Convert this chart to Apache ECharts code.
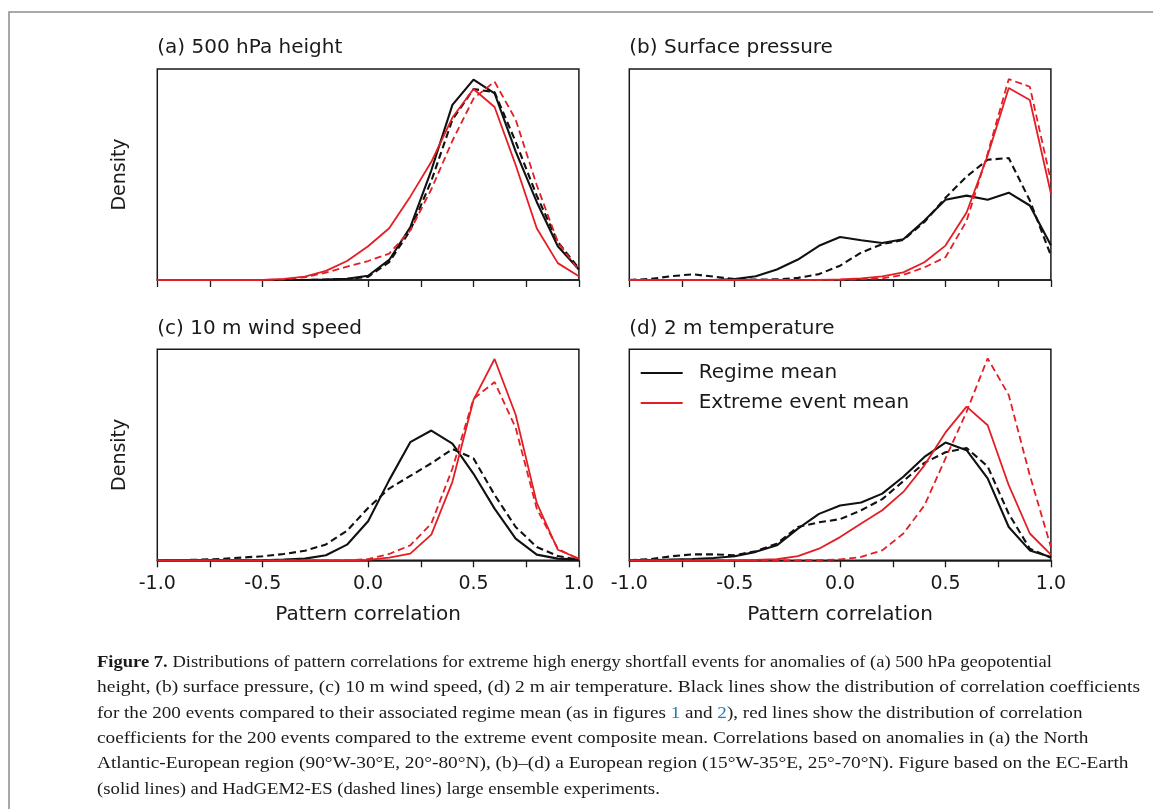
<!DOCTYPE html>
<html>
<head>
<meta charset="utf-8">
<script src="https://cdn.jsdelivr.net/npm/echarts@6/dist/echarts.min.js"></script>
<style>
html,body{margin:0;padding:0;background:#fff;}
#chart{width:1153px;height:809px;}
</style>
</head>
<body>
<div id="chart"></div>
<script>
// ---- data (heights; y axis: relative density, axis top = 1) ----
const xValues = [-1.0,-0.9,-0.8,-0.7,-0.6,-0.5,-0.4,-0.3,-0.2,-0.1,0.0,0.1,0.2,0.3,0.4,0.5,0.6,0.7,0.8,0.9,1.0];

const panelTitles = ['(a) 500 hPa height', '(b) Surface pressure', '(c) 10 m wind speed', '(d) 2 m temperature'];
const xLabelValues = [-1.0, -0.5, 0.0, 0.5, 1.0];
const xTickValues = [-1.0, -0.75, -0.5, 0.0, 0.25, 0.5, 0.75, 1.0];
const xAxisTitle = 'Pattern correlation';
const yAxisTitle = 'Density';
const legendNames = ['Regime mean', 'Extreme event mean'];

// (a) 500 hPa height
const aRegimeEC   = [0,0,0,0,0,0,0,0,0.002,0.006,0.02,0.095,0.25,0.52,0.83,0.95,0.885,0.61,0.37,0.16,0.05];
const aRegimeHG   = [0,0,0,0,0,0,0,0,0.002,0.005,0.015,0.085,0.235,0.47,0.76,0.905,0.89,0.655,0.40,0.18,0.055];
const aExtremeEC  = [0,0,0,0,0,0,0.005,0.016,0.043,0.09,0.16,0.245,0.395,0.56,0.77,0.905,0.82,0.545,0.245,0.08,0.018];
const aExtremeHG  = [0,0,0,0,0,0,0.003,0.013,0.035,0.063,0.09,0.125,0.235,0.43,0.66,0.86,0.94,0.76,0.45,0.18,0.045];

// (b) Surface pressure
const bRegimeEC   = [0,0,0,0,0,0.004,0.018,0.05,0.097,0.162,0.204,0.188,0.175,0.193,0.282,0.38,0.40,0.38,0.414,0.353,0.165];
const bRegimeHG   = [0,0.005,0.018,0.027,0.016,0.004,0.002,0.003,0.01,0.028,0.068,0.13,0.17,0.19,0.275,0.39,0.49,0.57,0.578,0.377,0.116];
const bExtremeEC  = [0,0,0,0,0,0,0,0,0,0.001,0.003,0.008,0.017,0.036,0.084,0.163,0.32,0.59,0.91,0.853,0.41];
const bExtremeHG  = [0,0,0,0,0,0,0,0,0,0,0.001,0.004,0.008,0.024,0.06,0.108,0.28,0.60,0.952,0.916,0.47];

// (c) 10 m wind speed
const cRegimeEC   = [0,0,0,0,0,0,0.003,0.008,0.024,0.074,0.185,0.38,0.56,0.615,0.553,0.41,0.245,0.103,0.027,0.008,0.003];
const cRegimeHG   = [0,0.001,0.003,0.006,0.013,0.019,0.03,0.045,0.075,0.14,0.248,0.34,0.40,0.46,0.527,0.483,0.31,0.158,0.063,0.02,0.003];
const cExtremeEC  = [0,0,0,0,0,0,0,0,0,0,0.002,0.013,0.032,0.122,0.372,0.76,0.954,0.69,0.272,0.05,0.008];
const cExtremeHG  = [0,0,0,0,0,0,0,0,0,0,0.006,0.03,0.071,0.174,0.435,0.765,0.845,0.628,0.245,0.055,0.004];

// (d) 2 m temperature
const dRegimeEC   = [0,0,0.003,0.006,0.011,0.019,0.04,0.071,0.15,0.22,0.26,0.274,0.316,0.396,0.49,0.558,0.522,0.388,0.158,0.047,0.016];
const dRegimeHG   = [0,0.006,0.019,0.028,0.028,0.024,0.043,0.079,0.158,0.18,0.195,0.237,0.29,0.375,0.462,0.512,0.532,0.445,0.22,0.055,0.012];
const dExtremeEC  = [0,0,0,0,0,0,0.002,0.005,0.02,0.055,0.11,0.174,0.237,0.324,0.45,0.606,0.728,0.64,0.356,0.127,0.027];
const dExtremeHG  = [0,0,0,0,0,0,0,0,0,0.001,0.004,0.016,0.047,0.127,0.26,0.483,0.704,0.957,0.783,0.403,0.063];

const captionLines = [
  '{b|Figure 7.} Distributions of pattern correlations for extreme high energy shortfall events for anomalies of (a) 500 hPa geopotential',
  'height, (b) surface pressure, (c) 10 m wind speed, (d) 2 m air temperature. Black lines show the distribution of correlation coefficients',
  'for the 200 events compared to their associated regime mean (as in figures {l|1} and {l|2}), red lines show the distribution of correlation',
  'coefficients for the 200 events compared to the extreme event composite mean. Correlations based on anomalies in (a) the North',
  'Atlantic-European region (90°W-30°E, 20°-80°N), (b)–(d) a European region (15°W-35°E, 25°-70°N). Figure based on the EC-Earth',
  '(solid lines) and HadGEM2-ES (dashed lines) large ensemble experiments.'
];

// ---- build chart ----
const panels = [
  [aRegimeEC, aRegimeHG, aExtremeEC, aExtremeHG],
  [bRegimeEC, bRegimeHG, bExtremeEC, bExtremeHG],
  [cRegimeEC, cRegimeHG, cExtremeEC, cExtremeHG],
  [dRegimeEC, dRegimeHG, dExtremeEC, dExtremeHG]
];

const BLACK = '#111111';
const RED = '#e31e24';
const AXC = '#1a1a1a';
const SANS = 'DejaVu Sans';
const SERIF = 'Liberation Serif';

const gridPos = [
  {left: 157.3, top: 69},
  {left: 629.3, top: 69},
  {left: 157.3, top: 349.3},
  {left: 629.3, top: 349.3}
];
const GW = 421.6, GH = 211;

const grids = [], xAxes = [], yAxes = [], series = [], titles = [];
function pairs(ys){ return xValues.map((x, i) => [x, ys[i]]); }

panels.forEach((p, i) => {
  const bottomRow = i >= 2;
  const leftCol = i % 2 === 0;
  grids.push({
    left: gridPos[i].left, top: gridPos[i].top, width: GW, height: GH,
    show: true, borderColor: AXC, borderWidth: 1.5, backgroundColor: 'transparent',
    containLabel: false
  });
  xAxes.push({
    type: 'value', gridIndex: i, min: -1, max: 1, interval: 0.25,
    axisLine: {show: true, onZero: false, lineStyle: {color: AXC, width: 1.5}},
    axisTick: {show: true, inside: false, length: 7, customValues: xTickValues, lineStyle: {color: AXC, width: 1.3}},
    axisLabel: {
      show: bottomRow, customValues: xLabelValues, margin: 14,
      formatter: v => Number(v).toFixed(1),
      fontFamily: SANS, fontSize: 19, color: '#1a1a1a'
    },
    splitLine: {show: false},
    name: bottomRow ? xAxisTitle : '',
    nameLocation: 'middle', nameGap: 44,
    nameTextStyle: {fontFamily: SANS, fontSize: 20, color: '#1a1a1a'}
  });
  yAxes.push({
    type: 'value', gridIndex: i, min: 0, max: 1,
    axisLine: {show: false}, axisTick: {show: false}, axisLabel: {show: false},
    splitLine: {show: false},
    name: leftCol ? yAxisTitle : '',
    nameLocation: 'middle', nameGap: 28,
    nameTextStyle: {fontFamily: SANS, fontSize: 19, color: '#1a1a1a'}
  });
  const styles = [
    {name: legendNames[0], color: BLACK, width: 2.1, type: 'solid'},
    {name: legendNames[0] + ' (HadGEM2-ES)', color: BLACK, width: 2.1, type: [7, 4]},
    {name: legendNames[1], color: RED, width: 1.8, type: 'solid'},
    {name: legendNames[1] + ' (HadGEM2-ES)', color: RED, width: 1.8, type: [7, 4]}
  ];
  p.forEach((ys, k) => {
    series.push({
      type: 'line', name: styles[k].name, xAxisIndex: i, yAxisIndex: i,
      data: pairs(ys), showSymbol: false, symbol: 'none', smooth: false,
      clip: true, animation: false,
      color: styles[k].color,
      lineStyle: {color: styles[k].color, width: styles[k].width, type: styles[k].type}
    });
  });
  titles.push({
    text: panelTitles[i], left: gridPos[i].left, top: gridPos[i].top - 31, padding: 0,
    textStyle: {fontFamily: SANS, fontSize: 20, fontWeight: 'normal', color: '#1a1a1a'}
  });
});

const graphics = [
  {type: 'rect', shape: {x: 9, y: 12, width: 1300, height: 900}, style: {fill: 'none', stroke: '#8c8c8c', lineWidth: 1.5}, silent: true}
];
const capY = [662, 687.5, 713, 738.3, 763.6, 789];
const capScale = [1.06, 1.113, 1.092, 1.102, 1.106, 1.07];
captionLines.forEach((t, i) => {
  graphics.push({
    type: 'text', x: 97, y: capY[i], scaleX: capScale[i], silent: true,
    style: {
      text: t, x: 0, y: 0, verticalAlign: 'middle', align: 'left',
      fontFamily: SERIF, fontSize: 17.5, fill: '#1a1a1a',
      rich: {
        b: {fontFamily: SERIF, fontSize: 17.5, fontWeight: 'bold', fill: '#1a1a1a'},
        l: {fontFamily: SERIF, fontSize: 17.5, fill: '#1a7fc1'}
      }
    }
  });
});

const chart = echarts.init(document.getElementById('chart'), null, {renderer: 'canvas'});
chart.setOption({
  animation: false,
  backgroundColor: '#ffffff',
  title: titles,
  grid: grids,
  xAxis: xAxes,
  yAxis: yAxes,
  legend: {
    data: legendNames, orient: 'vertical', left: 640.7, top: 363, padding: 0,
    icon: 'rect', itemWidth: 42, itemHeight: 2, itemGap: 10,
    textStyle: {fontFamily: SANS, fontSize: 20, color: '#1a1a1a', padding: [0, 0, 0, 11]},
    selectedMode: false
  },
  series: series,
  graphic: graphics
});
</script>
</body>
</html>
